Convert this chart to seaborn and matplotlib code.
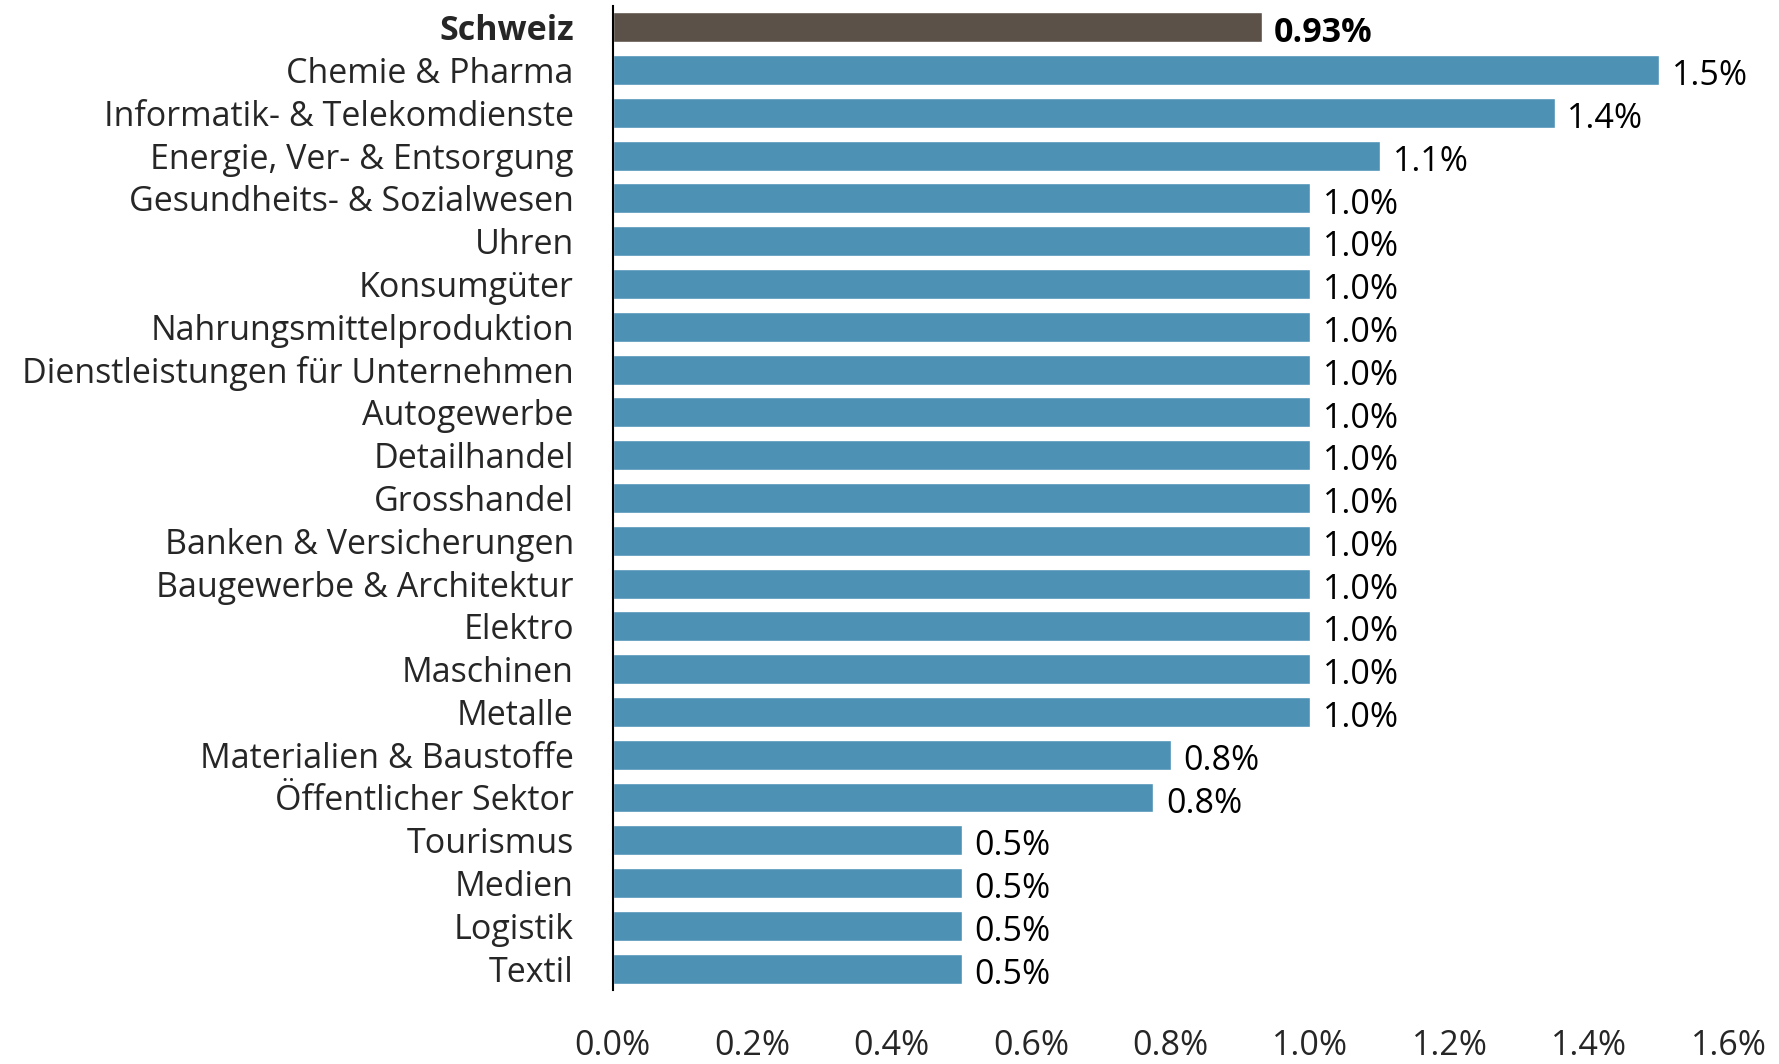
import matplotlib
matplotlib.use("Agg")
import matplotlib.pyplot as plt
import seaborn as sns
import pandas as pd

# data (percent)
branchen = ["Schweiz", "Chemie & Pharma", "Informatik- & Telekomdienste",
            "Energie, Ver- & Entsorgung", "Gesundheits- & Sozialwesen", "Uhren",
            "Konsumgüter", "Nahrungsmittelproduktion", "Dienstleistungen für Unternehmen",
            "Autogewerbe", "Detailhandel", "Grosshandel", "Banken & Versicherungen",
            "Baugewerbe & Architektur", "Elektro", "Maschinen", "Metalle",
            "Materialien & Baustoffe", "Öffentlicher Sektor", "Tourismus", "Medien",
            "Logistik", "Textil"]
werte = [0.93, 1.50, 1.35, 1.10, 1.00, 1.00, 1.00, 1.00, 1.00, 1.00, 1.00, 1.00,
         1.00, 1.00, 1.00, 1.00, 1.00, 0.80, 0.775, 0.50, 0.50, 0.50, 0.50]
labels = ["0.93%", "1.5%", "1.4%", "1.1%"] + ["1.0%"] * 13 + ["0.8%", "0.8%"] + ["0.5%"] * 4
x_ticks = [0.0, 0.2, 0.4, 0.6, 0.8, 1.0, 1.2, 1.4, 1.6]

blau = "#4d91b5"
dunkel = "#5b5148"

df = pd.DataFrame({"Branche": branchen, "Wert": werte})
farben = [dunkel] + [blau] * (len(branchen) - 1)

sns.set_style("white")
plt.rcParams["font.family"] = ["Open Sans", "DejaVu Sans"]
fs = 24.5

fig = plt.figure(figsize=(17.79, 10.64), dpi=100)
ax = fig.add_axes([0.3444, 0.0695, 0.6275, 0.925])

sns.barplot(data=df, x="Wert", y="Branche", hue="Branche", palette=farben,
            legend=False, width=0.7, saturation=1, ax=ax)

for i, (v, lab) in enumerate(zip(werte, labels)):
    ax.text(v + 0.018, i + 0.05, lab, va="center_baseline", ha="left", fontsize=fs,
            fontweight="bold" if i == 0 else "normal", color="black")

ax.set_xlim(0, 1.6)
ax.set_ylim(len(branchen) - 0.5, -0.5)
ax.set_xticks(x_ticks)
ax.set_xticklabels([f"{t:.1f}%" for t in x_ticks], fontsize=fs)
ax.tick_params(axis="x", length=0, pad=28)
ax.tick_params(axis="y", length=0, pad=28, labelsize=fs)
for t in ax.get_yticklabels():
    if t.get_text() == "Schweiz":
        t.set_fontweight("bold")
ax.set_xlabel("")
ax.set_ylabel("")

for s in ["top", "right", "bottom"]:
    ax.spines[s].set_visible(False)
ax.spines["left"].set_color("black")
ax.spines["left"].set_linewidth(1.5)

plt.savefig("out.png", dpi=100)
